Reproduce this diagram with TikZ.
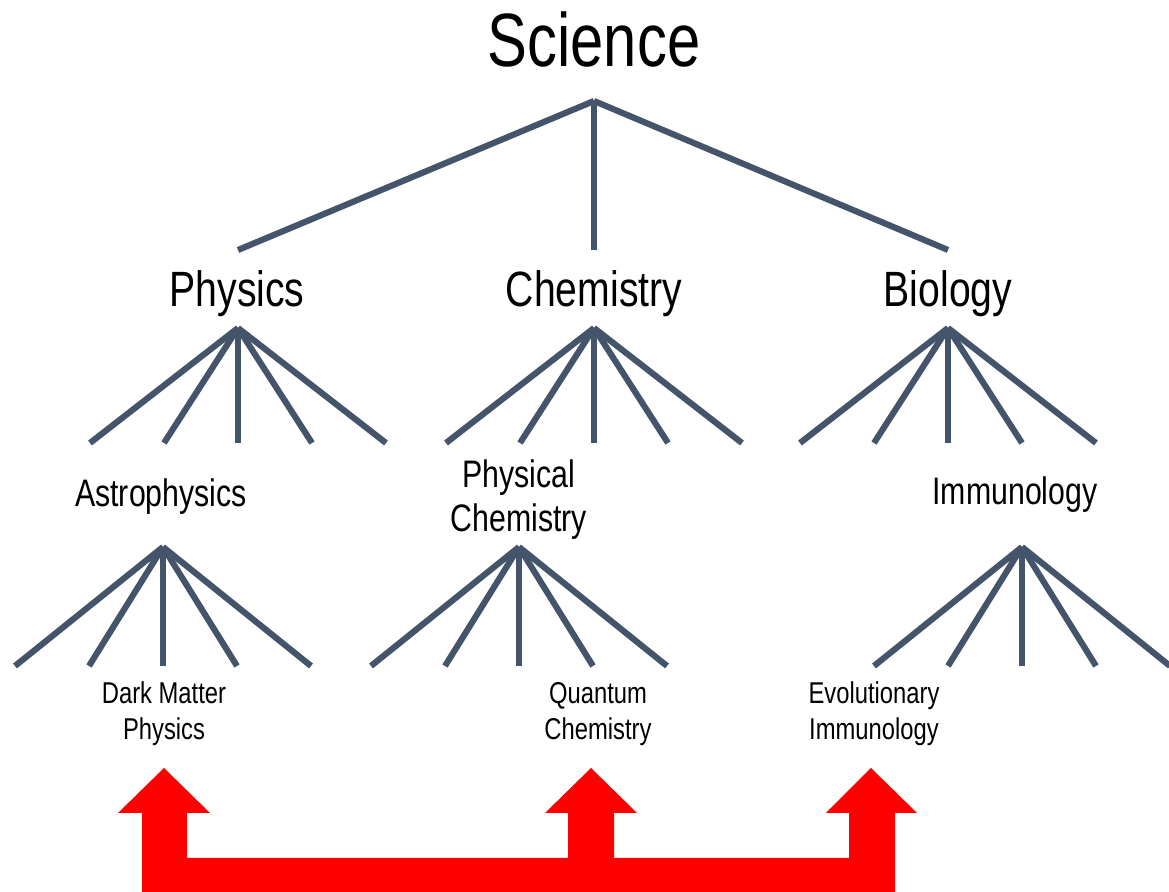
\documentclass[tikz,border=0pt]{standalone}
\usepackage{fontspec}
\newfontfamily\arialn[FakeStretch=0.79]{Liberation Sans}
\definecolor{slate}{HTML}{44546A}
\begin{document}
\begin{tikzpicture}[x=0.01cm,y=-0.01cm,
  branch/.style={draw=slate,line width=1.75pt,line cap=butt},
  lab/.style={inner sep=0pt,anchor=base,text=black},
  top/.style={lab,font=\arialn\fontsize{21.5}{25}\selectfont},
  lvone/.style={lab,font=\arialn\fontsize{14.1}{17}\selectfont},
  lvtwo/.style={lab,font=\arialn\fontsize{10.9}{12.5}\selectfont},
  lvthree/.style={lab,font=\arialn\fontsize{8.56}{9.96}\selectfont},
  bigarrow/.style={fill=red,draw=none}]
\useasboundingbox (0,0) rectangle (1169,892);

% texts
\node[top] (science) at (594,67) {Science};
\node[lvone] (physics) at (237,307) {Physics};
\node[lvone] (chemistry) at (594,307) {Chemistry};
\node[lvone] (biology) at (948,307) {Biology};
\node[lvtwo] (astro) at (161,507) {Astrophysics};
\node[lvtwo] (physchem) at (519,488) {\begin{tabular}[t]{@{}c@{}}Physical\\Chemistry\end{tabular}};
\node[lvtwo] (immuno) at (1015,505) {Immunology};
\node[lvthree] (darkmatter) at (164,704) {\begin{tabular}[t]{@{}c@{}}Dark Matter\\Physics\end{tabular}};
\node[lvthree] (quantum) at (598,704) {\begin{tabular}[t]{@{}c@{}}Quantum\\Chemistry\end{tabular}};
\node[lvthree] (evoimm) at (874,704) {\begin{tabular}[t]{@{}c@{}}Evolutionary\\Immunology\end{tabular}};

% top fan
\coordinate (sci-apex) at (594,101);
\foreach \n/\x in {phy/238, che/594, bio/948} {
  \coordinate (sci-\n) at (\x,250);
  \draw[branch] (sci-apex) -- (sci-\n);
}

% lower fans
\foreach \n/\cx/\ay/\by in {phy/238/328/443, che/594/328/443, bio/948/328/443,
                            ast/163/547/666, pch/519/547/666, imm/1022/547/666} {
  \coordinate (\n-apex) at (\cx,\ay);
  \foreach \i/\dx in {1/-148,2/-74,3/0,4/74,5/148} {
    \coordinate (\n-\i) at ({\cx+\dx},\by);
    \draw[branch] (\n-apex) -- (\n-\i);
  }
}

% red connecting arrows
\fill[bigarrow] (142,892) -- (142,813) -- (118,813) -- (164,768) -- (210,813) -- (187,813)
  -- (187,858) -- (568,858) -- (568,813) -- (545,813) -- (591,768) -- (637,813) -- (614,813)
  -- (614,858) -- (849,858) -- (849,813) -- (826,813) -- (871,768) -- (917,813) -- (895,813)
  -- (895,892) -- cycle;
\end{tikzpicture}
\end{document}
